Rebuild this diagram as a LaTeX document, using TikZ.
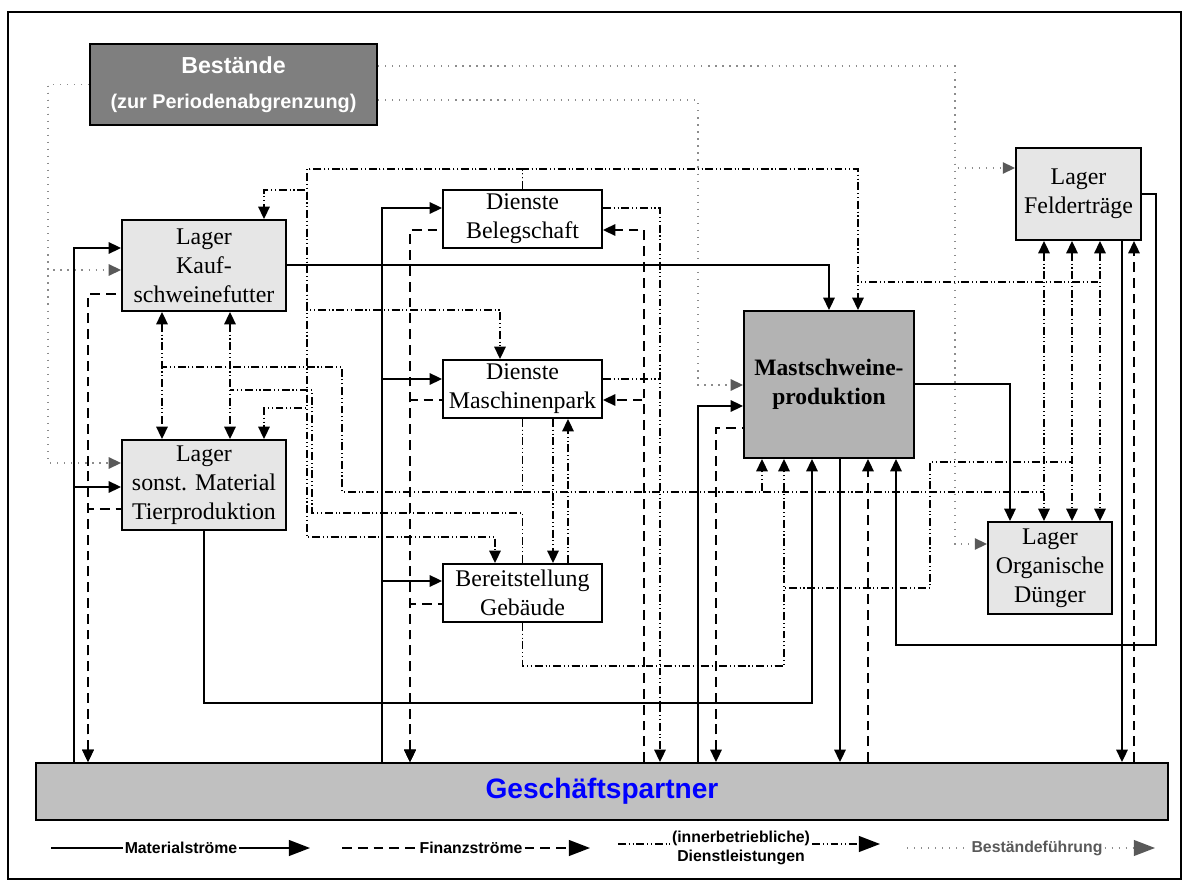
\documentclass[tikz,border=0pt]{standalone}
\usepackage{fontspec}
\setmainfont{Liberation Serif}
\setsansfont{Liberation Sans}
\usetikzlibrary{arrows.meta,positioning}
\definecolor{bestfill}{HTML}{7F7F7F}
\definecolor{mastfill}{HTML}{B3B3B3}
\definecolor{storefill}{HTML}{E6E6E6}
\definecolor{gpfill}{HTML}{C0C0C0}
\definecolor{invgray}{HTML}{8C8C8C}
\definecolor{invtip}{HTML}{595959}
\def \px {0.02cm}
\tikzstyle{box} = [draw,line width=1.1pt,rectangle,inner sep=0pt,align=center,font=\fontsize{13.6}{16.4}\selectfont]
\tikzstyle{store} = [box,fill=storefill]
\tikzstyle{flow} = [line width=0.9pt,>={Triangle[length=7pt,width=6.5pt]}]
\tikzstyle{mat} = [flow]
\tikzstyle{fin} = [flow,dash pattern=on 5.6pt off 3.4pt]
\tikzstyle{svc} = [flow,dash pattern=on 4.5pt off 1.6pt on 0.6pt off 1.6pt on 0.6pt off 1.6pt]
\tikzstyle{inv} = [line width=0.8pt,invgray,dash pattern=on 0.7pt off 3.3pt,>={Triangle[length=7pt,width=6.5pt,color=invtip]}]
\tikzstyle{legend} = [font=\sffamily\bfseries\fontsize{9}{10.5}\selectfont,inner sep=1pt,align=center]
\tikzstyle{legtip} = [>={Triangle[length=12pt,width=9pt]}]

\begin{document}
\begin{tikzpicture}[x=\px,y=-\px]
  \useasboundingbox (0,0) rectangle (1189,884);
  \draw[line width=0.6pt] (8,12) rectangle (1181,879);

  % boxes
  \node[box,fill=bestfill,text=white,minimum width=287*\px,minimum height=81*\px,
        font=\sffamily\bfseries\fontsize{11.3}{19.8}\selectfont] (best) at (233.5,84.5)
        {{\fontsize{13.2}{19.8}\selectfont Bestände}\\(zur Periodenabgrenzung)};
  \node[store,minimum width=164*\px,minimum height=91*\px] (kauf) at (204,265.5) {Lager\\Kauf-\\schweinefutter};
  \node[store,minimum width=164*\px,minimum height=90*\px] (sonst) at (204,485) {Lager\\sonst. Material\\Tierproduktion};
  \node[box,fill=white,minimum width=159*\px,minimum height=58*\px] (beleg) at (522.5,219) {Dienste\\Belegschaft};
  \node[box,fill=white,minimum width=159*\px,minimum height=58*\px] (masch) at (522.5,389) {Dienste\\Maschinenpark};
  \node[box,fill=white,minimum width=159*\px,minimum height=58*\px] (geb) at (522.5,593) {Bereitstellung\\Gebäude};
  \node[box,fill=mastfill,minimum width=170*\px,minimum height=147*\px,font=\bfseries\fontsize{13.4}{16.5}\selectfont] (mast) at (829,384.5) {Mastschweine-\\produktion};
  \node[store,minimum width=125*\px,minimum height=92*\px] (feld) at (1078.5,194) {Lager\\Felderträge};
  \node[store,minimum width=124*\px,minimum height=92*\px] (dung) at (1050,568) {Lager\\Organische\\Dünger};
  \node[box,fill=gpfill,minimum width=1132*\px,minimum height=57*\px,text=blue,font=\sffamily\bfseries\fontsize{16}{19}\selectfont] (gp) at (602,791.5) {Geschäftspartner};

  % Bestaende
  \draw[inv,->] (best.west) -| (48,270) -- (kauf.west |- 0,270);
  \draw[inv,->] (best.west) -| (48,463) -- (sonst.west |- 0,463);
  \draw[inv,->] (best.east |- 0,100) -| (698,385) -- (mast.west |- 0,385);
  \draw[inv,->] (best.east |- 0,66) -| (955,168) -- (feld.west |- 0,168);
  \draw[inv,->] (best.east |- 0,66) -| (955,544) -- (dung.west |- 0,544);

  % Dienstleistungen
  \draw[svc,->] (beleg.north) |- (307,169) |- (264,190) -- (kauf.north -| 264,0);
  \draw[svc,->] (beleg.north) |- (307,169) |- (500,310) -- (masch.north -| 500,0);
  \draw[svc,->] (beleg.north) |- (307,169) |- (264,408) -- (sonst.north -| 264,0);
  \draw[svc,->] (beleg.north) |- (307,169) |- (495,537) -- (geb.north -| 495,0);
  \draw[svc,->] (beleg.north) |- (858,169) -- (mast.north -| 858,0);
  \draw[svc] (beleg.north) |- (858,169) |- (1100,282);
  \draw[svc,->] (beleg.east |- 0,208) -| (gp.north -| 660,0);
  \draw[svc] (masch.east |- 0,379) -- (660,379);
  \draw[svc] (masch.south) |- (342,492) |- (162,367);
  \draw[svc,->] (masch.south) |- (762,492) -- (mast.south -| 762,0);
  \draw[svc] (masch.south) |- (1044,492);
  \draw[svc,->] (masch.south -| 553,0) -- (geb.north -| 553,0);
  \draw[svc,->] (geb.north -| 568,0) -- (masch.south -| 568,0);
  \draw[svc] (geb.north) |- (312,513) |- (230,390);
  \draw[svc,->] (geb.south) |- (784,666) -- (mast.south -| 784,0);
  \draw[svc] (geb.south) |- (784,666) |- (930,588) |- (1072,462);
  \draw[svc,<->] (kauf.south -| 162,0) -- (sonst.north -| 162,0);
  \draw[svc,<->] (kauf.south -| 230,0) -- (sonst.north -| 230,0);
  \draw[svc,<->] (feld.south -| 1044,0) -- (dung.north -| 1044,0);
  \draw[svc,<->] (feld.south -| 1072,0) -- (dung.north -| 1072,0);
  \draw[svc,<->] (feld.south -| 1100,0) -- (dung.north -| 1100,0);

  % Finanzstroeme
  \draw[fin,<-] (gp.north -| 88,0) |- (kauf.west |- 0,294);
  \draw[fin,<-] (gp.north -| 88,0) |- (sonst.west |- 0,509);
  \draw[fin,<-] (gp.north -| 410,0) |- (beleg.west |- 0,230);
  \draw[fin,<-] (gp.north -| 410,0) |- (masch.west |- 0,400);
  \draw[fin,<-] (gp.north -| 410,0) |- (geb.west |- 0,604);
  \draw[fin,->] (gp.north -| 644,0) |- (beleg.east |- 0,230);
  \draw[fin,->] (gp.north -| 644,0) |- (masch.east |- 0,400);
  \draw[fin,<-] (gp.north -| 716,0) |- (mast.west |- 0,428);
  \draw[fin,->] (gp.north -| 868,0) -- (mast.south -| 868,0);
  \draw[fin,->] (gp.north -| 1134,0) -- (feld.south -| 1134,0);

  % Materialstroeme
  \draw[mat,->] (gp.north -| 74,0) |- (kauf.west |- 0,248);
  \draw[mat,->] (gp.north -| 74,0) |- (sonst.west |- 0,487);
  \draw[mat,->] (kauf.east |- 0,265) -| (mast.north);
  \draw[mat,->] (sonst.south) |- (812,703) -- (mast.south -| 812,0);
  \draw[mat,->] (gp.north -| 382,0) |- (beleg.west |- 0,208);
  \draw[mat,->] (gp.north -| 382,0) |- (masch.west |- 0,379);
  \draw[mat,->] (gp.north -| 382,0) |- (geb.west |- 0,581);
  \draw[mat,->] (gp.north -| 698,0) |- (mast.west |- 0,406);
  \draw[mat,->] (mast.east |- 0,384) -| (dung.north -| 1010,0);
  \draw[mat,->] (mast.south -| 840,0) -- (gp.north -| 840,0);
  \draw[mat,->] (feld.east) -| (1156,645) -| (mast.south -| 896,0);
  \draw[mat,->] (feld.south -| 1122,0) -- (gp.north -| 1122,0);

  % Legende
  \node[legend] (lmat) at (181,848) {Materialströme};
  \draw[mat] (51,848) -- (lmat.west);
  \draw[mat,legtip,->] (lmat.east) -- (310,848);
  \node[legend] (lfin) at (471,848) {Finanzströme};
  \draw[fin] (342,848) -- (lfin.west);
  \draw[fin,legtip,->] (lfin.east) -- (590,848);
  \node[legend] (lsvc) at (741,848) {(innerbetriebliche)\\Dienstleistungen};
  \draw[svc] (618,844) -- (lsvc.west |- 0,844);
  \draw[svc,legtip,->] (lsvc.east |- 0,844) -- (880,844);
  \node[legend,text=invtip] (linv) at (1037,848) {Beständeführung};
  \draw[inv] (907,848) -- (linv.west);
  \draw[inv,>={Triangle[length=12pt,width=9pt,color=invtip]},->] (linv.east) -- (1155,848);
\end{tikzpicture}
\end{document}
